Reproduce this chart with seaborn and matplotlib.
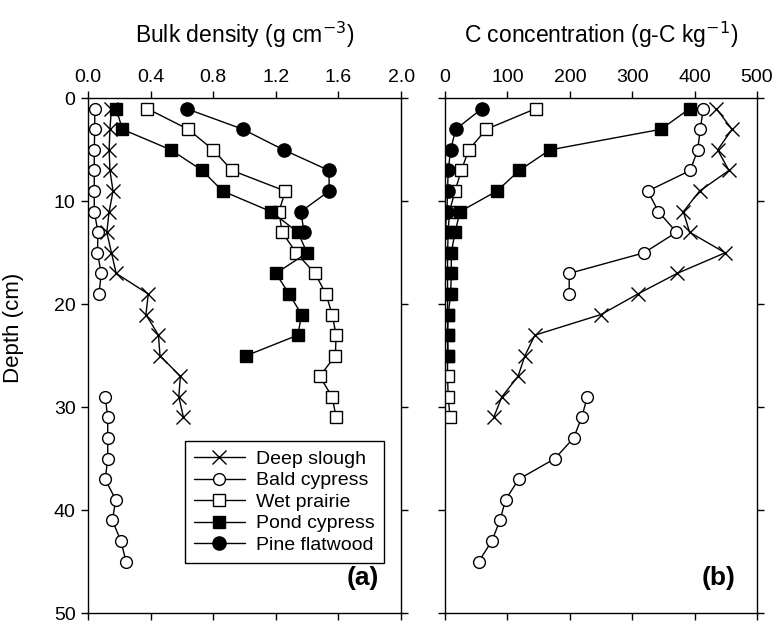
import numpy as np
import pandas as pd
import seaborn as sns
import matplotlib
matplotlib.use("Agg")
import matplotlib.pyplot as plt
from matplotlib.lines import Line2D

# depths (cm) of each sample, per site
depth_deep = [1, 3, 5, 7, 9, 11, 13, 15, 17, 19, 21, 23, 25, 27, 29, 31]
depth_bald = [1, 3, 5, 7, 9, 11, 13, 15, 17, 19, 29, 31, 33, 35, 37, 39, 41, 43, 45]
depth_wet = [1, 3, 5, 7, 9, 11, 13, 15, 17, 19, 21, 23, 25, 27, 29, 31]
depth_pond = [1, 3, 5, 7, 9, 11, 13, 15, 17, 19, 21, 23, 25]
depth_pine = [1, 3, 5, 7, 9, 11, 13]

# bulk density (g cm-3)
bd_deep = [0.15, 0.14, 0.135, 0.14, 0.16, 0.135, 0.12, 0.15, 0.18, 0.385,
           0.37, 0.45, 0.46, 0.59, 0.58, 0.61]
bd_bald = [0.043, 0.043, 0.04, 0.04, 0.04, 0.04, 0.064, 0.06, 0.085, 0.07,
           0.11, 0.126, 0.126, 0.126, 0.11, 0.177, 0.156, 0.21, 0.243]
bd_wet = [0.38, 0.64, 0.80, 0.92, 1.26, 1.22, 1.24, 1.33, 1.45, 1.52,
          1.56, 1.585, 1.58, 1.48, 1.56, 1.585]
bd_pond = [0.18, 0.22, 0.53, 0.73, 0.86, 1.17, 1.34, 1.40, 1.20, 1.285,
           1.365, 1.34, 1.01]
bd_pine = [0.63, 0.99, 1.25, 1.54, 1.54, 1.36, 1.38]

# C concentration (g-C kg-1)
c_deep = [435, 460, 437, 455, 408, 382, 392, 449, 372, 309,
          250, 144, 128, 117, 91, 78]
c_bald = [414, 409, 405, 393, 325, 342, 371, 319, 199, 199,
          228, 219, 206, 176, 118, 97, 88, 75, 54]
c_wet = [145, 66, 38, 26, 16, 7, 5, 4, 4, 4, 4, 4, 4, 4, 5, 8]
c_pond = [392, 346, 168, 119, 83, 24, 16, 10, 10, 9, 5, 4, 5]
c_pine = [59, 17, 9, 5, 4, 3, 0]

sites = ["Deep slough", "Bald cypress", "Wet prairie", "Pond cypress", "Pine flatwood"]
site_depths = [depth_deep, depth_bald, depth_wet, depth_pond, depth_pine]
site_bd = [bd_deep, bd_bald, bd_wet, bd_pond, bd_pine]
site_c = [c_deep, c_bald, c_wet, c_pond, c_pine]

styles = {
    "Deep slough": dict(marker="x", ms=9.5, mew=1.0, mfc="none"),
    "Bald cypress": dict(marker="o", ms=8.5, mew=1.0, mfc="white"),
    "Wet prairie": dict(marker="s", ms=8.5, mew=1.0, mfc="white"),
    "Pond cypress": dict(marker="s", ms=8, mew=1.0, mfc="black"),
    "Pine flatwood": dict(marker="o", ms=9.5, mew=1.0, mfc="black"),
}

rows = []
for site, dep, bd, cc in zip(sites, site_depths, site_bd, site_c):
    seg = 0
    for i, d in enumerate(dep):
        if i > 0 and d - dep[i - 1] > 2:
            seg += 1
        rows.append(dict(site=site, depth=d, bd=bd[i], c=cc[i], seg=seg))
df = pd.DataFrame(rows)

sns.set_theme(style="ticks")
plt.rcParams["font.family"] = ["Liberation Sans", "DejaVu Sans"]
plt.rcParams["text.color"] = "black"
plt.rcParams["axes.labelcolor"] = "black"

fig = plt.figure(figsize=(7.74, 6.23), dpi=100)
ax1 = fig.add_axes([0.1137, 0.016, 0.4045, 0.826])
ax2 = fig.add_axes([0.575, 0.016, 0.403, 0.826])

for ax, col in [(ax1, "bd"), (ax2, "c")]:
    for site in sites:
        sub = df[df.site == site]
        sns.lineplot(data=sub, x=col, y="depth", units="seg", estimator=None,
                     sort=False, color="black", lw=1.0, mec="black",
                     ax=ax, legend=False, **styles[site])
    ax.set_ylim(50, 0)
    ax.set_xlabel("")
    ax.set_ylabel("")
    ax.xaxis.tick_top()
    ax.tick_params(axis="both", direction="out", length=5, width=1,
                   labelsize=14, colors="black", top=True, bottom=True,
                   left=True, right=True, labelbottom=False, labeltop=True,
                   pad=4)
    for s in ax.spines.values():
        s.set_linewidth(1.0)
        s.set_color("black")

ax1.set_xlim(0, 2.0)
ax1.set_xticks([0.0, 0.4, 0.8, 1.2, 1.6, 2.0])
ax1.set_xticklabels(["0.0", "0.4", "0.8", "1.2", "1.6", "2.0"])
ax1.set_yticks([0, 10, 20, 30, 40, 50])
ax1.set_ylabel("Depth (cm)", fontsize=16, color="black")
ax1.yaxis.set_label_coords(-0.205, 0.555)
ax1.set_title("Bulk density (g cm$^{-3}$)", fontsize=16.5, pad=40, color="black")

ax2.set_xlim(0, 500)
ax2.set_xticks([0, 100, 200, 300, 400, 500])
ax2.set_yticks([0, 10, 20, 30, 40, 50])
ax2.tick_params(axis="y", labelleft=False)
ax2.set_title("C concentration (g-C kg$^{-1}$)", fontsize=16.5, pad=40, color="black")

ax1.text(0.93, 0.045, "(a)", transform=ax1.transAxes, ha="right", va="bottom",
         fontsize=19, fontweight="bold", color="black")
ax2.text(0.93, 0.045, "(b)", transform=ax2.transAxes, ha="right", va="bottom",
         fontsize=19, fontweight="bold", color="black")

handles = [Line2D([], [], color="black", lw=1.0, mec="black", **styles[s])
           for s in sites]
leg = ax1.legend(handles, sites, loc="lower right", bbox_to_anchor=(0.945, 0.098),
                 fontsize=14, frameon=True, fancybox=False, edgecolor="black",
                 handlelength=2.6, handletextpad=0.6, borderpad=0.45,
                 labelspacing=0.2, framealpha=1, borderaxespad=0,
                 labelcolor="black")
leg.get_frame().set_linewidth(1.0)

fig.savefig("out.png", dpi=100)
